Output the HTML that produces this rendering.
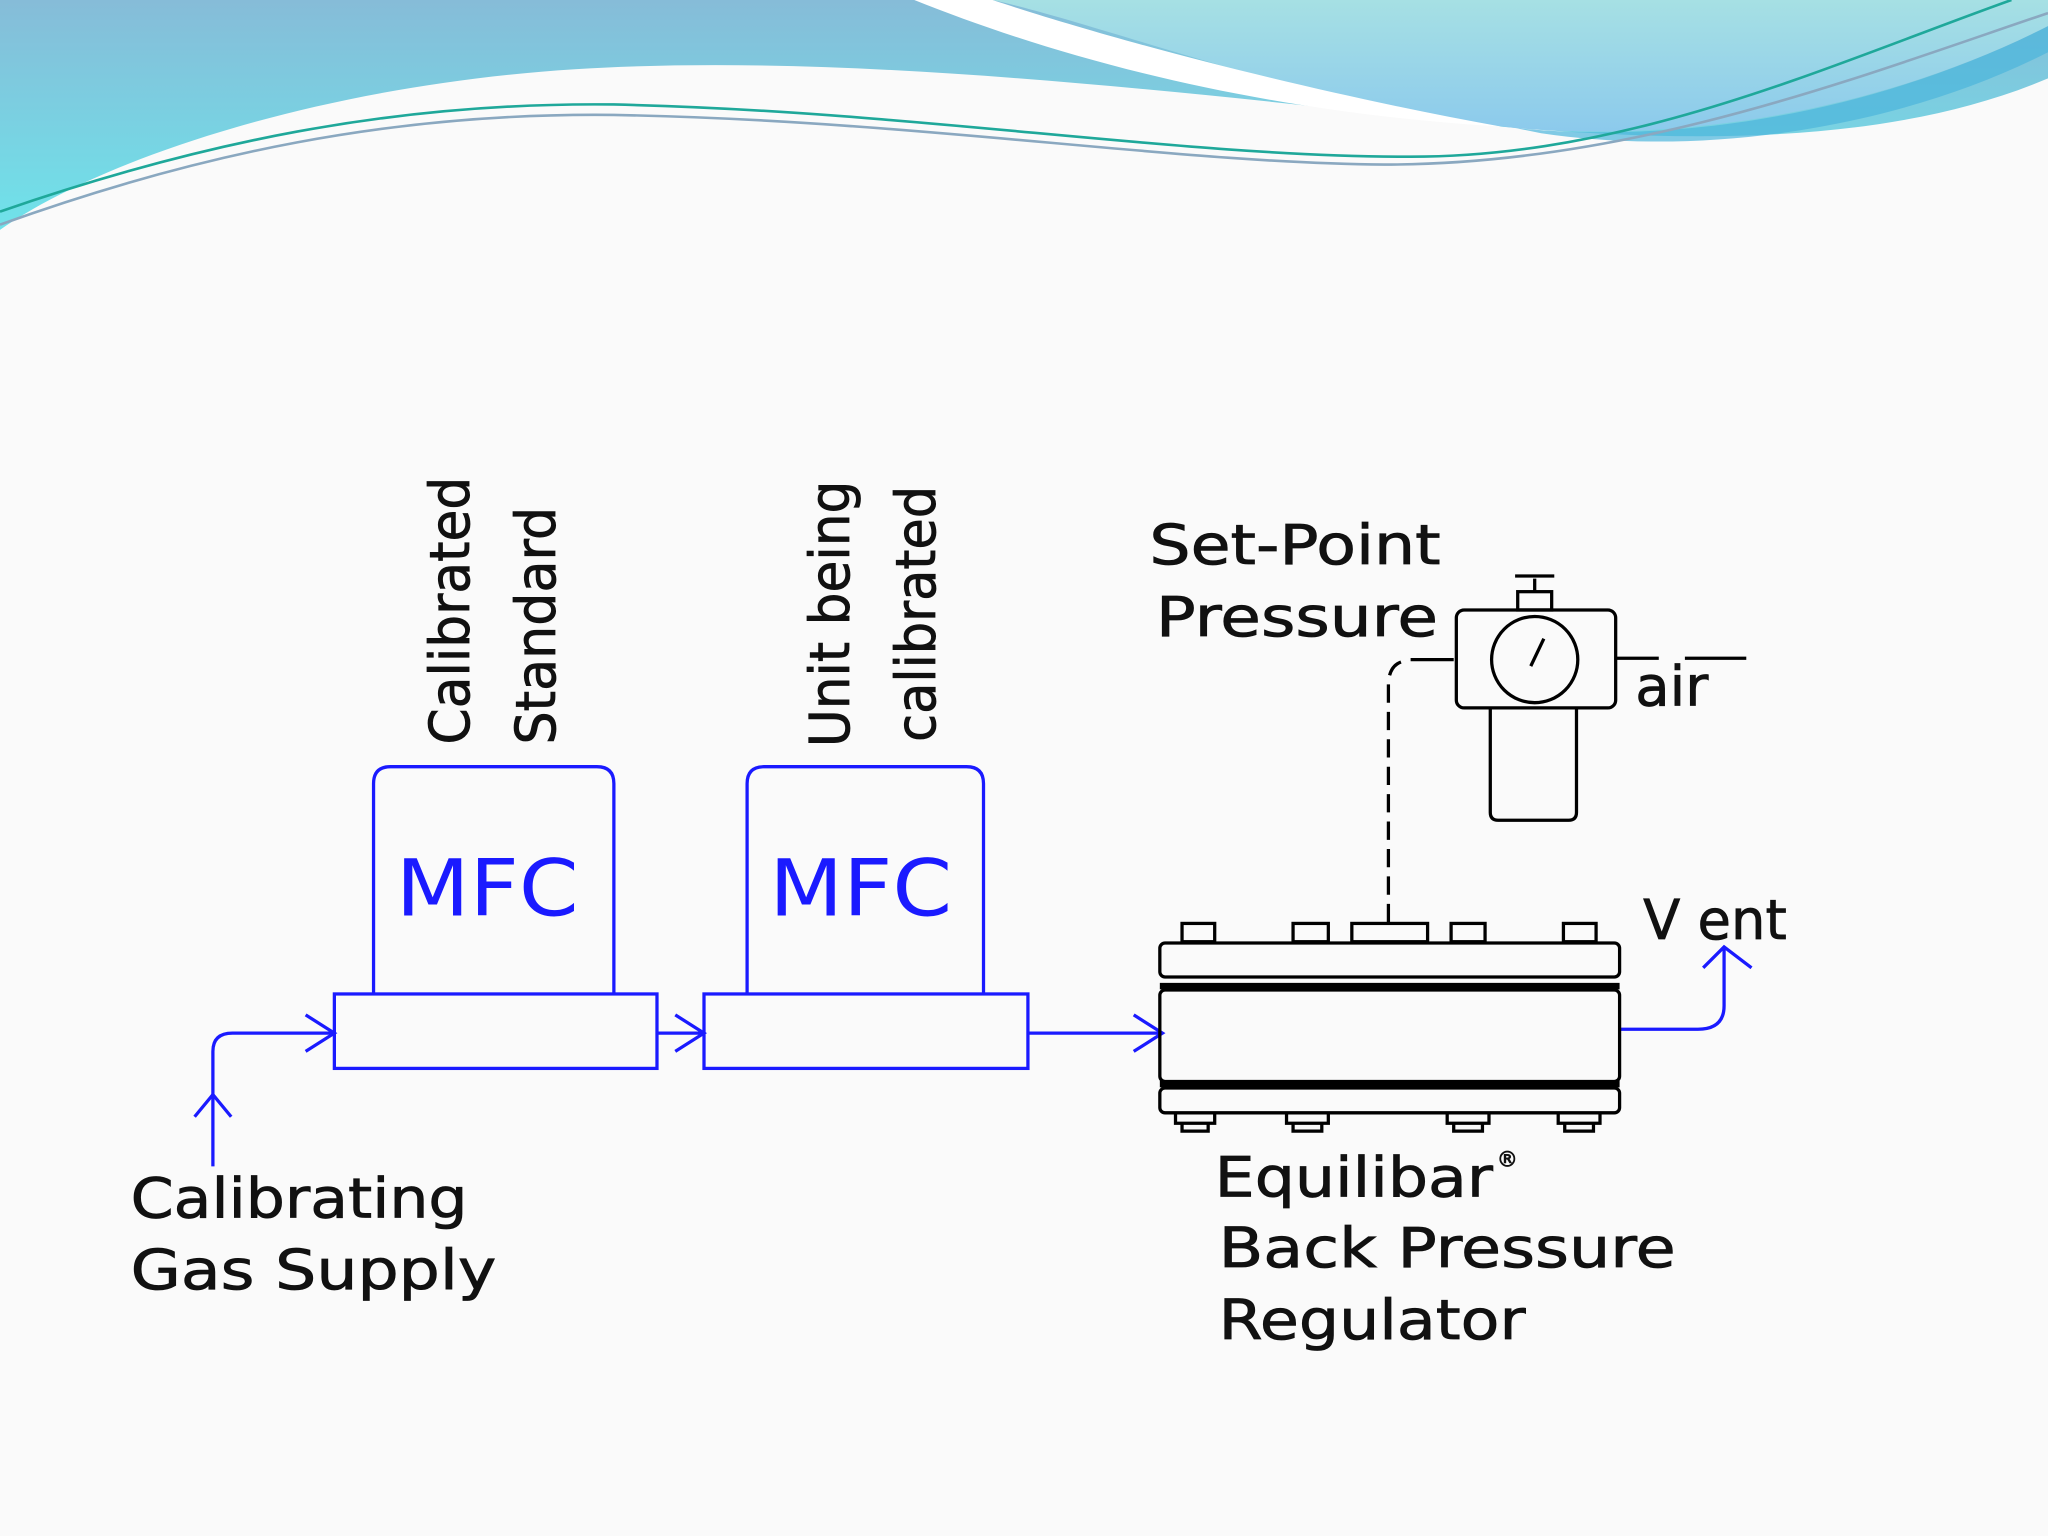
<!DOCTYPE html>
<html><head><meta charset="utf-8"><style>
html,body{margin:0;padding:0;background:#fafafa}
svg{display:block}
text{font-family:"DejaVu Sans","Liberation Sans",sans-serif}
</style></head><body>
<svg width="2048" height="1536" viewBox="0 0 1568 1176" xmlns="http://www.w3.org/2000/svg">
<defs>
<linearGradient id="g1" x1="0" y1="0" x2="0" y2="1"><stop offset="0" stop-color="#86bcd8"/><stop offset="1" stop-color="#6fe3ea"/></linearGradient>
<linearGradient id="g2" x1="0" y1="0" x2="0" y2="1"><stop offset="0" stop-color="#a6e0e4"/><stop offset="1" stop-color="#8ccaec"/></linearGradient>
</defs>
<rect width="1568" height="1176" fill="#fafafa"/>
<path d="M0 0 H1568 V60 C1450 110 1300 110 1150 97 C900 70 650 40 440 53 C250 65 80 120 0 176 Z" fill="url(#g1)"/>
<path d="M760 0 H1568 V20 C1450 80 1300 110 1160 98 C1000 80 850 20 760 0 Z" fill="url(#g2)"/>
<path d="M700 0 C800 40 950 85 1150 97 C1000 70 850 30 760 0 Z" fill="#fff"/>
<path d="M1160 98 C1300 112 1450 80 1568 20 V40 C1450 100 1300 120 1180 102 Z" fill="#4cb5dc" opacity="0.7"/>
<path d="M0 162 C150 110 300 78 470 80 C700 85 900 120 1080 120 C1250 120 1400 50 1540 0" fill="none" stroke="#1fa89a" stroke-width="2"/>
<path d="M0 172 C150 118 300 86 470 88 C700 92 900 125 1060 126 C1250 126 1420 60 1568 10" fill="none" stroke="#8aa8c0" stroke-width="2"/>
<g fill="none" stroke="#1a1aff" stroke-width="2.5">
<path d="M286 760 V600 Q286 587 299 587 H457 Q470 587 470 600 V760"/>
<rect x="256" y="761" width="247" height="57"/>
<path d="M572 760 V600 Q572 587 585 587 H740 Q753 587 753 600 V760"/>
<rect x="539" y="761" width="248" height="57"/>
<path d="M163 893 V805 Q163 791 178 791 H256"/>
<path d="M234 777 L256 791 L234 805 M149 855 L163 838 L177 855"/>
<path d="M503 791 H539 M517 777 L539 791 L517 805"/>
<path d="M787 791 H890 M868 777 L890 791 L868 805"/>
<path d="M1240 788 H1300 Q1320 788 1320 770 V725 M1304 741 L1320 725 L1341 741"/>
</g>
<text x="303" y="701" font-size="60" fill="#1a1aff" textLength="140" lengthAdjust="spacingAndGlyphs">MFC</text>
<text x="589" y="701" font-size="60" fill="#1a1aff" textLength="140" lengthAdjust="spacingAndGlyphs">MFC</text>
<g font-size="42" fill="#111" stroke="#111" stroke-width="0.6">
<text transform="translate(359,570) rotate(-90)" textLength="205" lengthAdjust="spacingAndGlyphs">Calibrated</text>
<text transform="translate(425,570) rotate(-90)" textLength="182" lengthAdjust="spacingAndGlyphs">Standard</text>
<text transform="translate(650,572) rotate(-90)" textLength="204" lengthAdjust="spacingAndGlyphs">Unit being</text>
<text transform="translate(716,568) rotate(-90)" textLength="196" lengthAdjust="spacingAndGlyphs">calibrated</text>
</g>
<g fill="none" stroke="#000" stroke-width="2.5">
<rect x="1115" y="467" width="122" height="75" rx="6"/>
<circle cx="1175" cy="505" r="33"/>
<path d="M1172 510 L1182 489"/>
<path d="M1141 542 V622 Q1141 628 1147 628 H1201 Q1207 628 1207 622 V542"/>
<rect x="1162" y="453" width="26" height="14"/>
<path d="M1175 453 V443 M1160 441 H1190"/>
<path d="M1237 504 H1270 M1290 504 H1337 M1113 505 H1080"/>
<path d="M1063 706 V525 Q1063 508 1076 506" stroke-dasharray="14 7"/>
<rect x="888" y="722" width="352" height="26" rx="4"/>
<rect x="888" y="758" width="352" height="70" rx="4"/>
<rect x="888" y="833" width="352" height="19" rx="4"/>
<rect x="905" y="707" width="25" height="14"/>
<rect x="990" y="707" width="27" height="14"/>
<rect x="1035" y="707" width="58" height="14"/>
<rect x="1111" y="707" width="26" height="14"/>
<rect x="1197" y="707" width="25" height="14"/>
</g>
<g stroke="#000" stroke-width="5"><path d="M888 755 H1240 M888 830 H1240"/></g>
<g fill="none" stroke="#000" stroke-width="2.5">
<path d="M900 853 V860 H930 V853 M905 860 V866 H925 V860"/>
<path d="M985 853 V860 H1017 V853 M990 860 V866 H1012 V860"/>
<path d="M1108 853 V860 H1140 V853 M1113 860 V866 H1135 V860"/>
<path d="M1193 853 V860 H1225 V853 M1198 860 V866 H1220 V860"/>
</g>
<g font-size="42" fill="#111" stroke="#111" stroke-width="0.6">
<text x="100" y="932" textLength="258" lengthAdjust="spacingAndGlyphs">Calibrating</text>
<text x="100" y="987" textLength="280" lengthAdjust="spacingAndGlyphs">Gas Supply</text>
<text x="880" y="432" textLength="223" lengthAdjust="spacingAndGlyphs">Set-Point</text>
<text x="885" y="487" textLength="216" lengthAdjust="spacingAndGlyphs">Pressure</text>
<text x="1252" y="540" textLength="56" lengthAdjust="spacingAndGlyphs">air</text>
<text x="1258" y="719" textLength="110" lengthAdjust="spacingAndGlyphs">V ent</text>
<text x="930" y="916" textLength="213" lengthAdjust="spacingAndGlyphs">Equilibar</text>
<text x="1146" y="893" font-size="16">®</text>
<text x="933" y="970" textLength="350" lengthAdjust="spacingAndGlyphs">Back Pressure</text>
<text x="933" y="1025" textLength="235" lengthAdjust="spacingAndGlyphs">Regulator</text>
</g>
</svg>
</body></html>
